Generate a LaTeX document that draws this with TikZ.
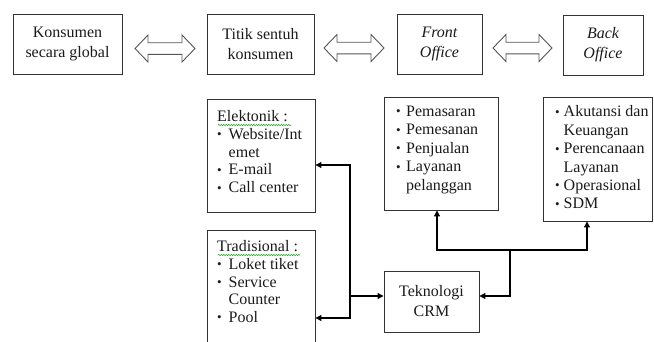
\documentclass[tikz,border=0pt]{standalone}
\usepackage{fontspec}
\setmainfont{Liberation Serif}
\usetikzlibrary{arrows.meta,decorations.pathmorphing}
\definecolor{boxline}{HTML}{333333}
\definecolor{dbl}{HTML}{555555}
\definecolor{txt}{HTML}{1A1A1A}
\newcommand\bul[1]{\makebox[#1][l]{\raisebox{0.6pt}{\fontsize{13}{13}\selectfont •}}}
\begin{document}
\begin{tikzpicture}[x=1pt,y=-1pt,
  box/.style={draw=boxline,line width=0.9pt,inner sep=0pt,rectangle},
  topbox/.style={box,align=center,text=txt,font=\fontsize{16}{20}\selectfont},
  listtxt/.style={inner sep=0pt,anchor=north west,align=left,text=txt},
  arr/.style={line width=1.1pt,-{Triangle[length=6pt,width=6pt]}},
  wavy/.style={draw=green!60!black,line width=0.5pt,decorate,
    decoration={snake,amplitude=0.6pt,segment length=2.5pt}},
  pics/dblarrow/.style={code={
    \draw[draw=dbl,line width=0.9pt,line join=miter]
      (0,0) -- (13,-13.5) -- (13,-5.8) -- (#1-13,-5.8) -- (#1-13,-13.5) -- (#1,0)
      -- (#1-13,13.5) -- (#1-13,5.8) -- (13,5.8) -- (13,13.5) -- cycle;}}]
\useasboundingbox (0,0) rectangle (654,341);
\clip (0,0) rectangle (654,341);
% top row
\node[topbox,minimum width=109pt,minimum height=60pt] (kons) at (67.5,44) {Konsumen\\secara global};
\node[topbox,minimum width=107pt,minimum height=60pt] (titik) at (260.5,44) {Titik sentuh\\konsumen};
\node[topbox,minimum width=85pt,minimum height=60pt] (front) at (439.5,44) {\itshape Front\\\itshape Office};
\node[topbox,minimum width=80pt,minimum height=60pt] (back) at (603,45) {\itshape Back\\\itshape Office};
\pic at (135,48.5) {dblarrow=60};
\pic at (324,48) {dblarrow=60};
\pic at (493,48) {dblarrow=59};
% boxes
\node[box,minimum width=108pt,minimum height=113pt] (elek) at (261,155.5) {};
\node[box,minimum width=108pt,minimum height=124pt] (trad) at (261,292) {};
\node[box,minimum width=114pt,minimum height=113pt] (frontl) at (441,153.5) {};
\node[box,minimum width=109pt,minimum height=124pt] (backl) at (597.5,159) {};
\node[topbox,minimum width=95pt,minimum height=61pt] (crm) at (431.5,301.5) {Teknologi\\CRM};
% list texts
\node[listtxt,font=\fontsize{16}{17.7}\selectfont] (elekt) at (217,110.5)
  {Elektonik :\\\bul{11.5pt}Website/Int\\\hspace*{11.5pt}emet\\\bul{11.5pt}E-mail\\\bul{11.5pt}Call center};
\node[listtxt,font=\fontsize{16}{17.6}\selectfont] (tradt) at (217,240.5)
  {Tradisional :\\\bul{11.5pt}Loket tiket\\\bul{11.5pt}Service\\\hspace*{11.5pt}Counter\\\bul{11.5pt}Pool};
\node[listtxt,font=\fontsize{16}{18.5}\selectfont] (frontt) at (396,105.5)
  {\bul{10pt}Pemasaran\\\bul{10pt}Pemesanan\\\bul{10pt}Penjualan\\\bul{10pt}Layanan\\\hspace*{10pt}pelanggan};
\node[listtxt,font=\fontsize{16}{18.4}\selectfont] (backt) at (555,105.5)
  {\bul{8.5pt}Akutansi dan\\\hspace*{8.5pt}Keuangan\\\bul{8.5pt}Perencanaan\\\hspace*{8.5pt}Layanan\\\bul{8.5pt}Operasional\\\bul{8.5pt}SDM};
% spell-check underlines
\coordinate (we1) at (218,125); \coordinate (we2) at (291,125);
\coordinate (wt1) at (218,255); \coordinate (wt2) at (300,255);
\draw[wavy] (we1) -- (we2);
\draw[wavy] (wt1) -- (wt2);
% connectors left
\coordinate (v1) at (350,165);
\coordinate (v2) at (350,318);
\coordinate (v3) at (350,296);
\draw[arr] (v3) -- (v1) -- (v1 -| elek.east);
\draw[arr] (v3) -- (v2) -- (v2 -| trad.east);
\draw[arr] (v3) -- (v3 -| crm.west);
% connectors right
\coordinate (w1) at (510,296);
\coordinate (w2) at (510,250);
\coordinate (fa) at (437,250);
\coordinate (ba) at (587,250);
\draw[arr] (w2) -- (w1) -- (w1 -| crm.east);
\draw[arr] (w2) -- (fa) -- (fa |- frontl.south);
\draw[arr] (w2) -- (ba) -- (ba |- backl.south);
\end{tikzpicture}
\end{document}
